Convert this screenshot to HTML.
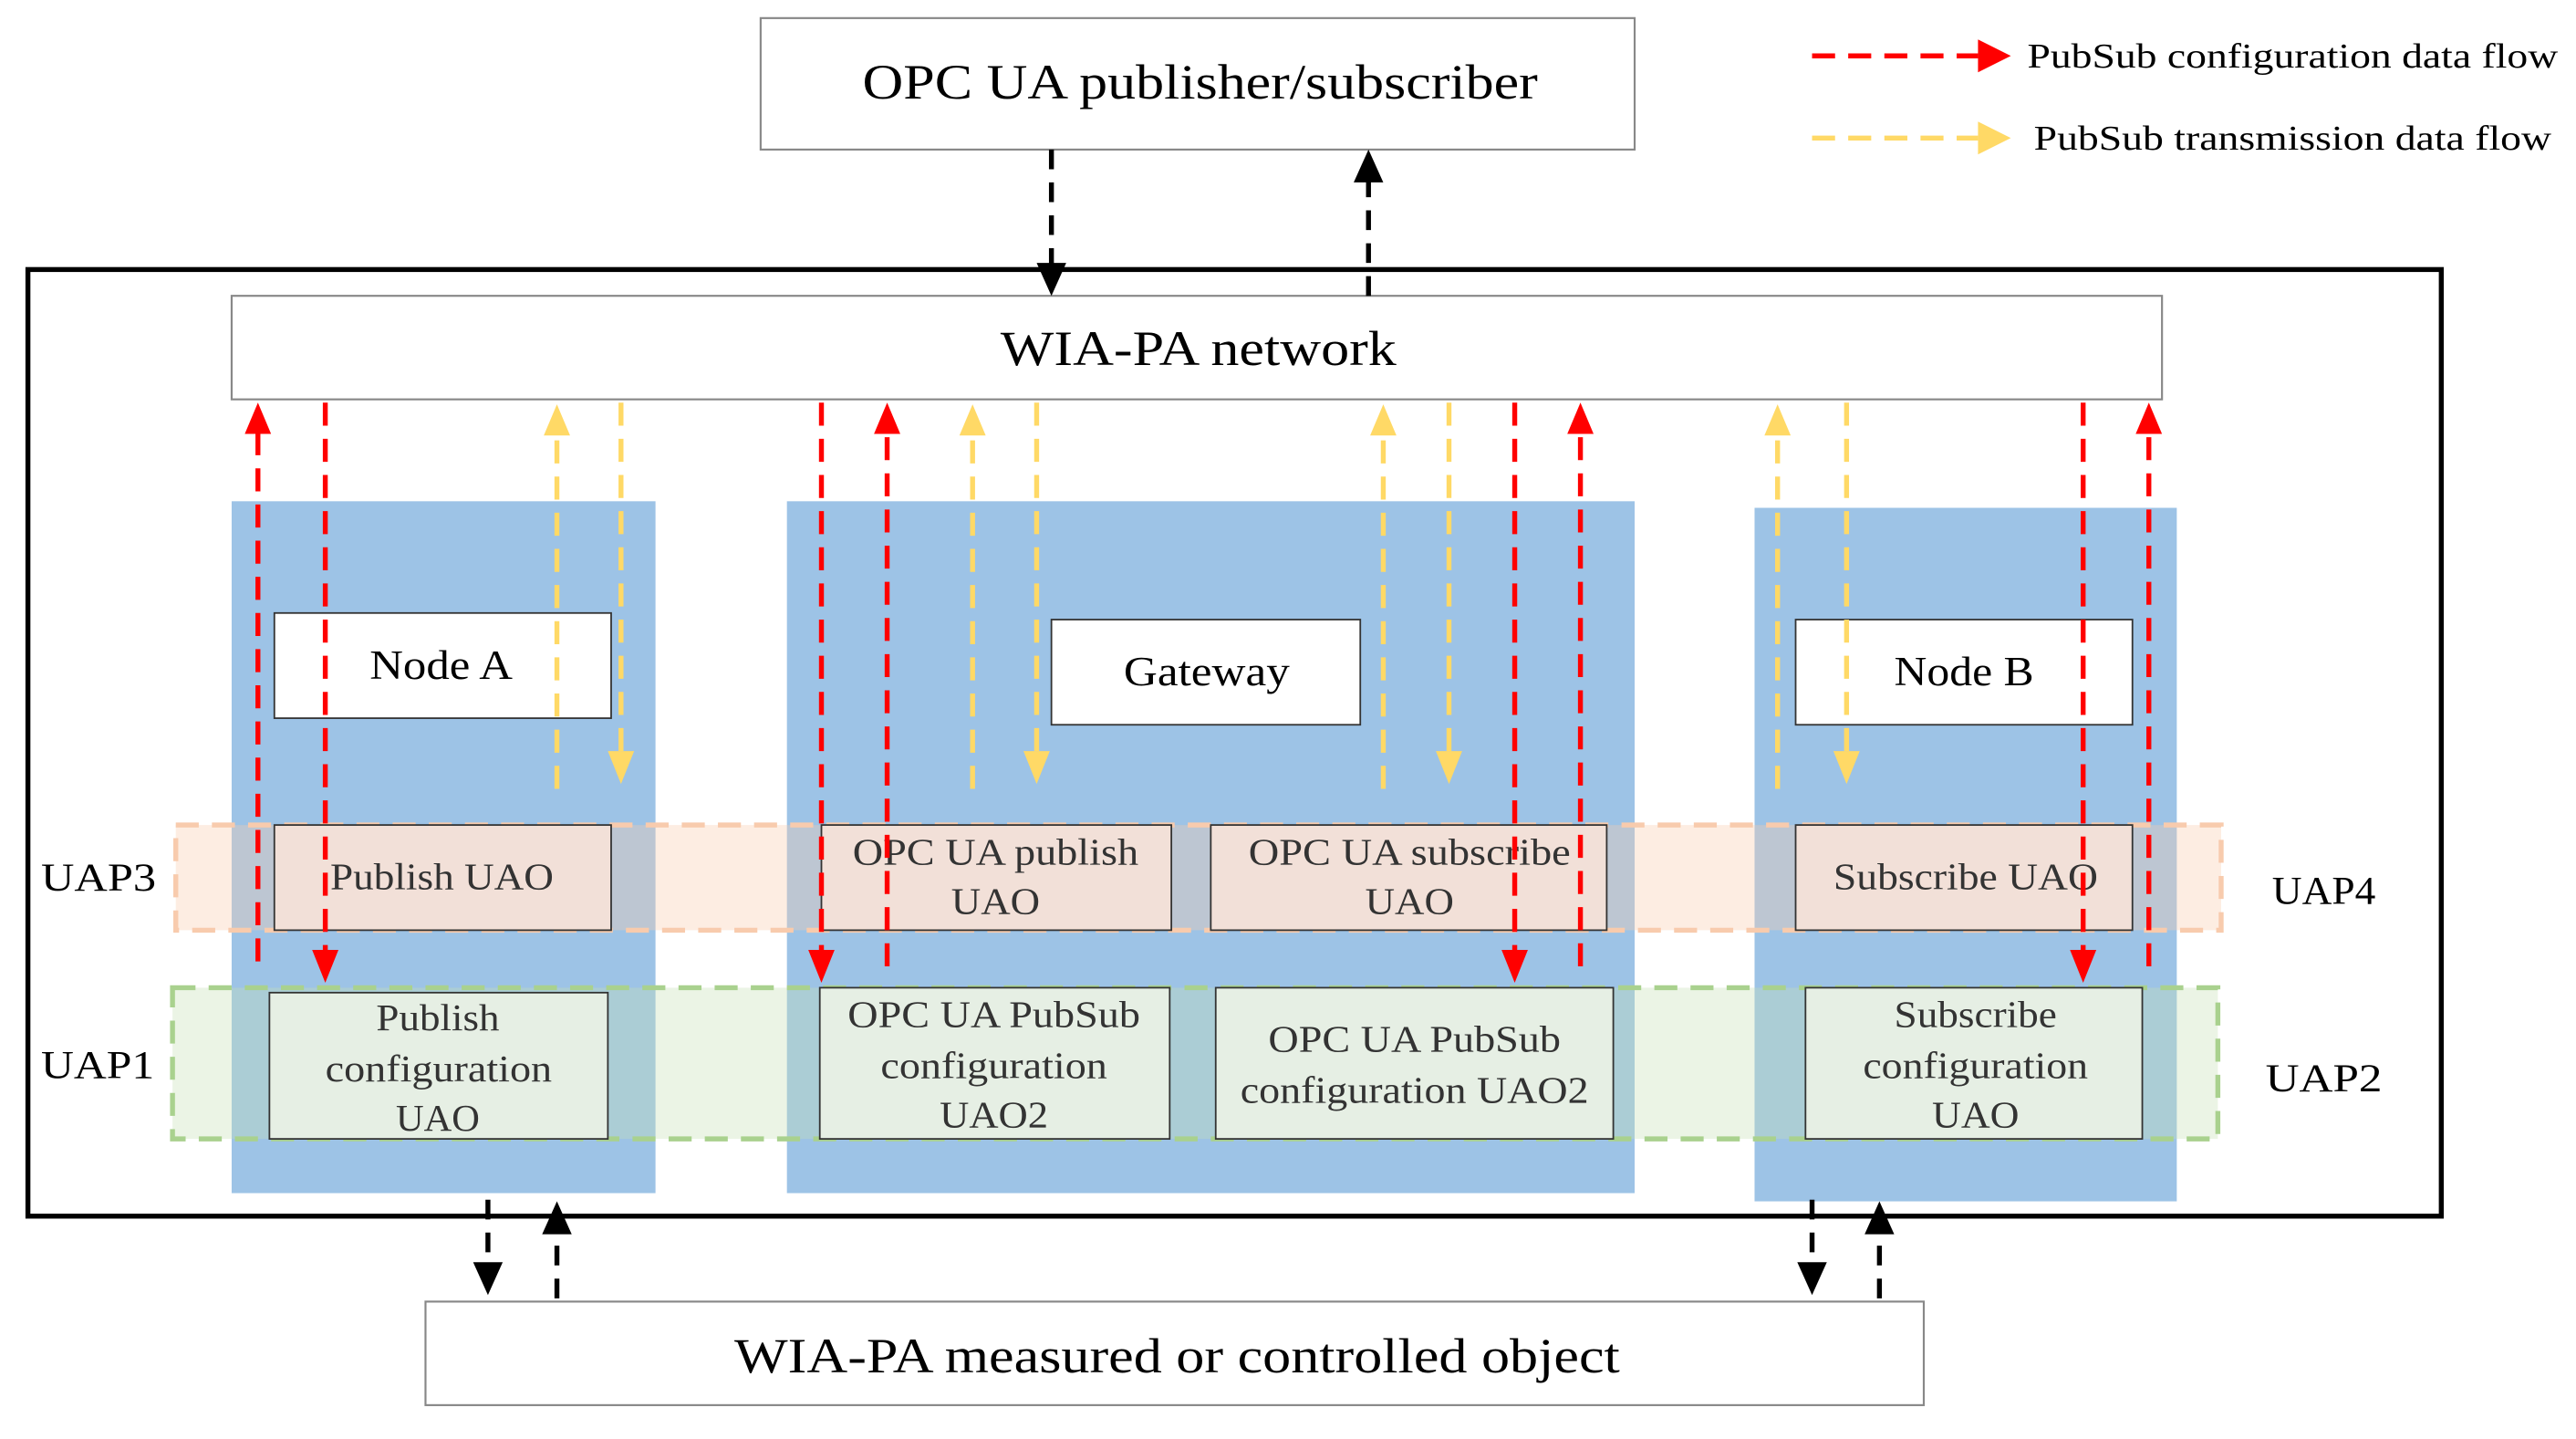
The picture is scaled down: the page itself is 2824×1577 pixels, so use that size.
<!DOCTYPE html>
<html><head><meta charset="utf-8"><style>html,body{margin:0;padding:0;background:#fff}svg{display:block}</style></head>
<body>
<svg width="2824" height="1577" viewBox="0 0 1568 875.6" xmlns="http://www.w3.org/2000/svg" font-family="Liberation Serif, serif">
<rect x="0" y="0" width="1568" height="876" fill="#fff"/>
<rect x="463" y="11" width="532" height="80" fill="#fff" stroke="#888" stroke-width="1.2"/>
<text x="525" y="60" font-size="30" textLength="411" lengthAdjust="spacingAndGlyphs">OPC UA publisher/subscriber</text>
<line x1="1103" y1="34" x2="1204" y2="34" stroke="#ff0000" stroke-width="3" stroke-dasharray="14,8"/>
<path d="M1204,24 L1224,34 L1204,44 z" fill="#ff0000"/>
<text x="1234" y="41" font-size="21" textLength="323" lengthAdjust="spacingAndGlyphs">PubSub configuration data flow</text>
<line x1="1103" y1="84" x2="1204" y2="84" stroke="#ffd966" stroke-width="3" stroke-dasharray="14,8"/>
<path d="M1204,74 L1224,84 L1204,94 z" fill="#ffd966"/>
<text x="1238" y="91" font-size="21" textLength="315" lengthAdjust="spacingAndGlyphs">PubSub transmission data flow</text>
<rect x="17" y="164" width="1469" height="576" fill="#fff" stroke="#000" stroke-width="3"/>
<rect x="141" y="305" width="258" height="421" fill="#9dc3e6"/>
<rect x="479" y="305" width="516" height="421" fill="#9dc3e6"/>
<rect x="1068" y="309" width="257" height="422" fill="#9dc3e6"/>
<rect x="141" y="180" width="1175" height="63" fill="#fff" stroke="#888" stroke-width="1.2"/>
<text x="609" y="222" font-size="30" textLength="241" lengthAdjust="spacingAndGlyphs">WIA-PA network</text>
<rect x="167" y="373" width="205" height="64" fill="#fff" stroke="#333" stroke-width="1"/>
<text x="225" y="413" font-size="25" textLength="87" lengthAdjust="spacingAndGlyphs">Node A</text>
<rect x="640" y="377" width="188" height="64" fill="#fff" stroke="#333" stroke-width="1"/>
<text x="684" y="417" font-size="25" textLength="101" lengthAdjust="spacingAndGlyphs">Gateway</text>
<rect x="1093" y="377" width="205" height="64" fill="#fff" stroke="#333" stroke-width="1"/>
<text x="1153" y="417" font-size="25" textLength="85" lengthAdjust="spacingAndGlyphs">Node B</text>
<rect x="107" y="502" width="1245" height="64" fill="#f8cbad" fill-opacity="0.35" stroke="#f8cbad" stroke-width="3" stroke-dasharray="14,8"/>
<rect x="105" y="601" width="1245" height="92" fill="#c5e0b4" fill-opacity="0.35" stroke="#a9d18e" stroke-width="3" stroke-dasharray="14,8"/>
<g fill="#f4e2d8" stroke="#333" stroke-width="1" fill-opacity="0.95">
<rect x="167" y="502" width="205" height="64"/>
<rect x="500" y="502" width="213" height="64"/>
<rect x="737" y="502" width="241" height="64"/>
<rect x="1093" y="502" width="205" height="64"/>
</g>
<g fill="#e6efe4" stroke="#333" stroke-width="1">
<rect x="164" y="604" width="206" height="89"/>
<rect x="499" y="601" width="213" height="92"/>
<rect x="740" y="601" width="242" height="92"/>
<rect x="1099" y="601" width="205" height="92"/>
</g>
<g font-size="23" fill="#333" lengthAdjust="spacingAndGlyphs">
<text x="201" y="541" textLength="136" lengthAdjust="spacingAndGlyphs">Publish UAO</text>
<text x="519" y="526" textLength="174" lengthAdjust="spacingAndGlyphs">OPC UA publish</text><text x="579" y="556" textLength="54" lengthAdjust="spacingAndGlyphs">UAO</text>
<text x="760" y="526" textLength="196" lengthAdjust="spacingAndGlyphs">OPC UA subscribe</text><text x="831" y="556" textLength="54" lengthAdjust="spacingAndGlyphs">UAO</text>
<text x="1116" y="541" textLength="161" lengthAdjust="spacingAndGlyphs">Subscribe UAO</text>
<text x="229" y="627" textLength="75" lengthAdjust="spacingAndGlyphs">Publish</text><text x="198" y="658" textLength="138" lengthAdjust="spacingAndGlyphs">configuration</text><text x="241" y="688" textLength="51" lengthAdjust="spacingAndGlyphs">UAO</text>
<text x="516" y="625" textLength="178" lengthAdjust="spacingAndGlyphs">OPC UA PubSub</text><text x="536" y="656" textLength="138" lengthAdjust="spacingAndGlyphs">configuration</text><text x="572" y="686" textLength="66" lengthAdjust="spacingAndGlyphs">UAO2</text>
<text x="772" y="640" textLength="178" lengthAdjust="spacingAndGlyphs">OPC UA PubSub</text><text x="755" y="671" textLength="212" lengthAdjust="spacingAndGlyphs">configuration UAO2</text>
<text x="1153" y="625" textLength="99" lengthAdjust="spacingAndGlyphs">Subscribe</text><text x="1134" y="656" textLength="137" lengthAdjust="spacingAndGlyphs">configuration</text><text x="1176" y="686" textLength="53" lengthAdjust="spacingAndGlyphs">UAO</text>
</g>
<g font-size="24" fill="#000">
<text x="25" y="542" textLength="70" lengthAdjust="spacingAndGlyphs">UAP3</text><text x="25" y="656" textLength="69" lengthAdjust="spacingAndGlyphs">UAP1</text>
<text x="1383" y="550" textLength="63" lengthAdjust="spacingAndGlyphs">UAP4</text><text x="1379" y="664" textLength="71" lengthAdjust="spacingAndGlyphs">UAP2</text>
</g>
<rect x="259" y="792" width="912" height="63" fill="#fff" stroke="#888" stroke-width="1.2"/>
<text x="447" y="835" font-size="30" textLength="539" lengthAdjust="spacingAndGlyphs">WIA-PA measured or controlled object</text>
<g stroke="#000" stroke-width="3" stroke-dasharray="12,8" fill="none">
<line x1="640" y1="91" x2="640" y2="162"/>
<line x1="833" y1="180" x2="833" y2="110"/>
<line x1="297" y1="730" x2="297" y2="770"/>
<line x1="339" y1="790" x2="339" y2="750"/>
<line x1="1103" y1="730" x2="1103" y2="770"/>
<line x1="1144" y1="790" x2="1144" y2="750"/>
</g>
<g fill="#000">
<path d="M631,160 L649,160 L640,180 z"/>
<path d="M824,111 L842,111 L833,91 z"/>
<path d="M288,768 L306,768 L297,788 z"/>
<path d="M330,751 L348,751 L339,731 z"/>
<path d="M1094,768 L1112,768 L1103,788 z"/>
<path d="M1135,751 L1153,751 L1144,731 z"/>
</g>
<g stroke="#ff0000" stroke-width="3" stroke-dasharray="14,8" fill="none">
<line x1="157" y1="585" x2="157" y2="262"/>
<line x1="198" y1="245" x2="198" y2="580"/>
<line x1="500" y1="245" x2="500" y2="580"/>
<line x1="540" y1="588" x2="540" y2="262"/>
<line x1="922" y1="245" x2="922" y2="580"/>
<line x1="962" y1="588" x2="962" y2="262"/>
<line x1="1268" y1="245" x2="1268" y2="580"/>
<line x1="1308" y1="588" x2="1308" y2="262"/>
</g>
<g fill="#ff0000">
<path d="M149,264 L165,264 L157,245 z"/>
<path d="M190,578 L206,578 L198,598 z"/>
<path d="M492,578 L508,578 L500,598 z"/>
<path d="M532,264 L548,264 L540,245 z"/>
<path d="M914,578 L930,578 L922,598 z"/>
<path d="M954,264 L970,264 L962,245 z"/>
<path d="M1260,578 L1276,578 L1268,598 z"/>
<path d="M1300,264 L1316,264 L1308,245 z"/>
</g>
<g stroke="#ffd966" stroke-width="3" stroke-dasharray="14,8" fill="none">
<line x1="339" y1="480" x2="339" y2="262"/>
<line x1="378" y1="245" x2="378" y2="460"/>
<line x1="592" y1="480" x2="592" y2="262"/>
<line x1="631" y1="245" x2="631" y2="460"/>
<line x1="842" y1="480" x2="842" y2="262"/>
<line x1="882" y1="245" x2="882" y2="460"/>
<line x1="1082" y1="480" x2="1082" y2="262"/>
<line x1="1124" y1="245" x2="1124" y2="460"/>
</g>
<g fill="#ffd966">
<path d="M331,265 L347,265 L339,246 z"/>
<path d="M370,457 L386,457 L378,477 z"/>
<path d="M584,265 L600,265 L592,246 z"/>
<path d="M623,457 L639,457 L631,477 z"/>
<path d="M834,265 L850,265 L842,246 z"/>
<path d="M874,457 L890,457 L882,477 z"/>
<path d="M1074,265 L1090,265 L1082,246 z"/>
<path d="M1116,457 L1132,457 L1124,477 z"/>
</g>
</svg>
</body></html>
